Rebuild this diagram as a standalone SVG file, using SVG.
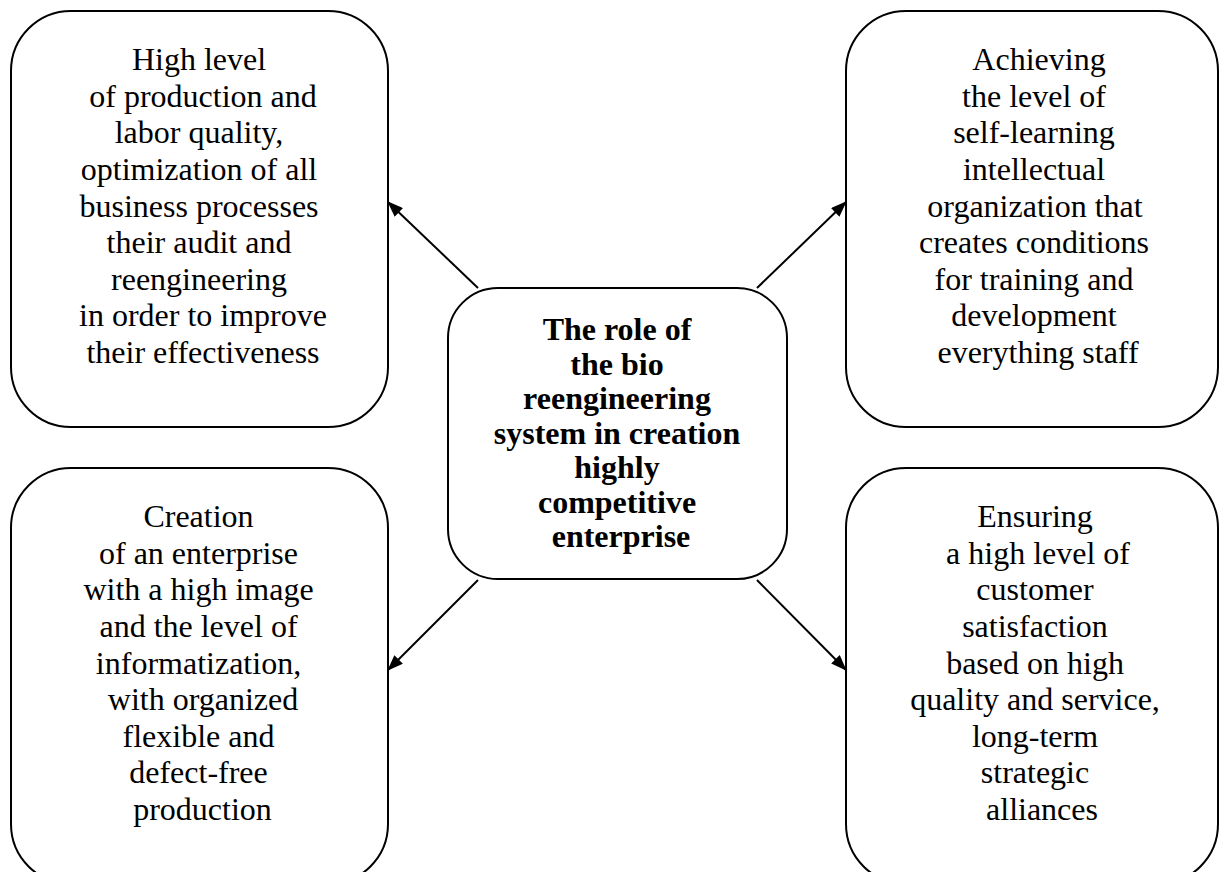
<svg xmlns="http://www.w3.org/2000/svg" width="1220" height="872" viewBox="0 0 1220 872">
<style>
.box{fill:#fff;stroke:#000;stroke-width:2}
.t{font-family:'Liberation Serif','Times New Roman',serif;font-size:32px;fill:#000;text-anchor:middle}
.b{font-weight:bold}
.c{stroke:#000;stroke-width:2;fill:none}
</style>
<defs>
<marker id="ah" markerWidth="16" markerHeight="12" refX="15" refY="6" orient="auto" markerUnits="userSpaceOnUse">
<path d="M0,0 L16,6 L0,12 Z" fill="#000"/>
</marker>
</defs>
<rect width="1220" height="872" fill="#fff"/>
<g id="connectors">
<line class="c" x1="478" y1="288" x2="388" y2="202" marker-end="url(#ah)"/>
<line class="c" x1="757" y1="288" x2="846" y2="202" marker-end="url(#ah)"/>
<line class="c" x1="478" y1="580" x2="388" y2="670" marker-end="url(#ah)"/>
<line class="c" x1="757" y1="580" x2="846" y2="670" marker-end="url(#ah)"/>
</g>
<g id="node-tl">
<rect class="box" x="11" y="11" width="377" height="416" rx="60" ry="60"/>
<text class="t">
<tspan x="203" y="70">High level</tspan>
<tspan x="207" y="106.5">of production and</tspan>
<tspan x="203" y="143">labor quality,</tspan>
<tspan x="203" y="180">optimization of all</tspan>
<tspan x="203" y="216.5">business processes</tspan>
<tspan x="203" y="253">their audit and</tspan>
<tspan x="203" y="289.5">reengineering</tspan>
<tspan x="207" y="326">in order to improve</tspan>
<tspan x="203" y="363">their effectiveness</tspan>
</text>
</g>
<g id="node-tr">
<rect class="box" x="846" y="11" width="372" height="416" rx="60" ry="60"/>
<text class="t">
<tspan x="1043" y="70">Achieving</tspan>
<tspan x="1038" y="106.5">the level of</tspan>
<tspan x="1038" y="143">self-learning</tspan>
<tspan x="1038" y="180">intellectual</tspan>
<tspan x="1039" y="216.5">organization that</tspan>
<tspan x="1038" y="253">creates conditions</tspan>
<tspan x="1038" y="289.5">for training and</tspan>
<tspan x="1038" y="326">development</tspan>
<tspan x="1038" y="363">everything staff</tspan>
</text>
</g>
<g id="node-center">
<rect class="box" x="448" y="288" width="339" height="291" rx="50" ry="50"/>
<text class="t b">
<tspan x="621" y="340">The role of</tspan>
<tspan x="621" y="374.5">the bio</tspan>
<tspan x="621" y="409">reengineering</tspan>
<tspan x="621" y="443.5">system in creation</tspan>
<tspan x="621" y="478">highly</tspan>
<tspan x="621" y="512.5">competitive</tspan>
<tspan x="621" y="547">enterprise</tspan>
</text>
</g>
<g id="node-bl">
<rect class="box" x="11" y="468" width="377" height="416" rx="60" ry="60"/>
<text class="t">
<tspan x="202.5" y="527">Creation</tspan>
<tspan x="202.5" y="563.5">of an enterprise</tspan>
<tspan x="202.5" y="600">with a high image</tspan>
<tspan x="202.5" y="637">and the level of</tspan>
<tspan x="202.5" y="673.5">informatization,</tspan>
<tspan x="207" y="710">with organized</tspan>
<tspan x="202.5" y="746.5">flexible and</tspan>
<tspan x="202.5" y="783">defect-free</tspan>
<tspan x="202.5" y="820">production</tspan>
</text>
</g>
<g id="node-br">
<rect class="box" x="846" y="468" width="372" height="416" rx="60" ry="60"/>
<text class="t">
<tspan x="1039" y="527">Ensuring</tspan>
<tspan x="1042" y="563.5">a high level of</tspan>
<tspan x="1039" y="600">customer</tspan>
<tspan x="1039" y="637">satisfaction</tspan>
<tspan x="1039" y="673.5">based on high</tspan>
<tspan x="1039" y="710">quality and service,</tspan>
<tspan x="1039" y="746.5">long-term</tspan>
<tspan x="1039" y="783">strategic</tspan>
<tspan x="1042" y="820">alliances</tspan>
</text>
</g>
</svg>
